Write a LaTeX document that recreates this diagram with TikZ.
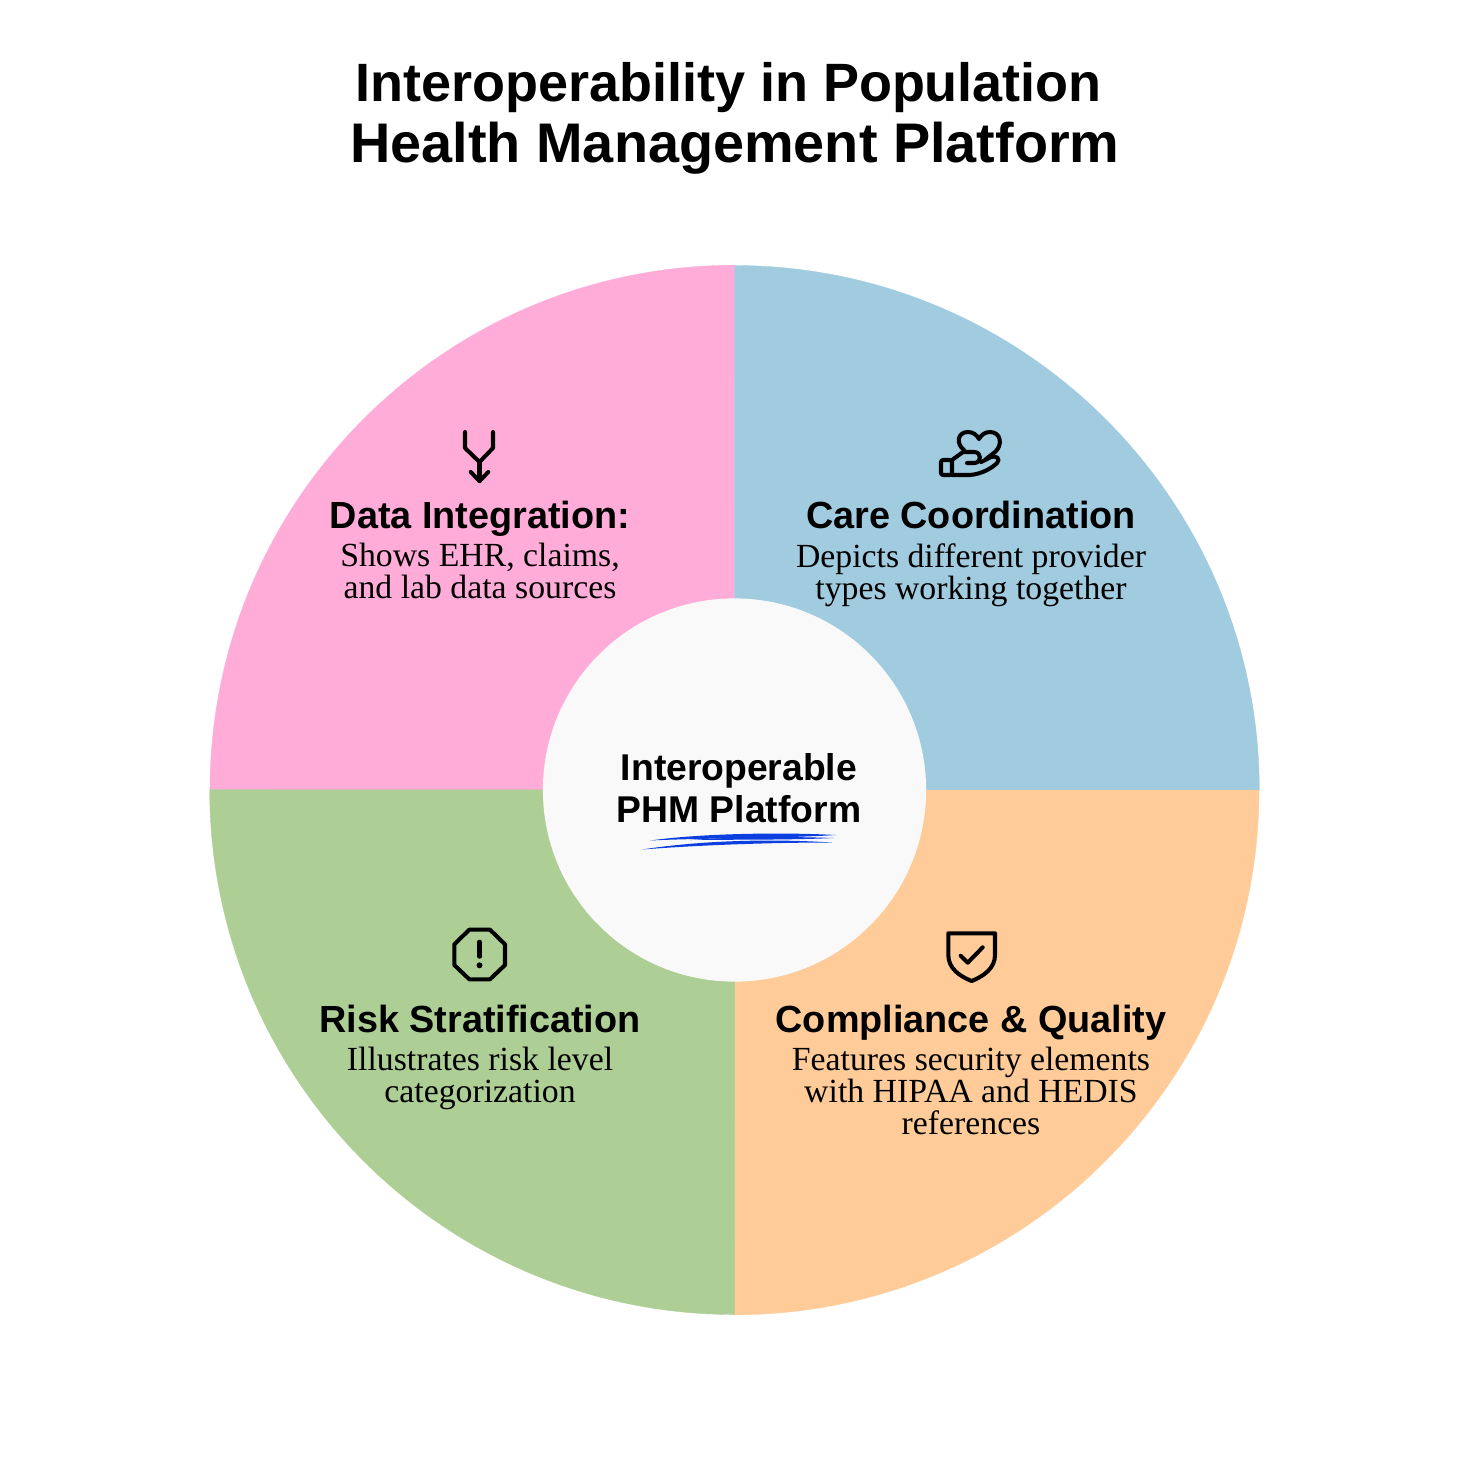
\documentclass[tikz,border=0pt]{standalone}
\usepackage{fontspec}
\setmainfont{Liberation Serif}
\newfontfamily\headfont{Liberation Sans}[BoldFont={Liberation Sans Bold}]
\usepackage{tikz}
\usetikzlibrary{positioning}
\definecolor{pinkarc}{HTML}{FFADD8}
\definecolor{bluearc}{HTML}{A1CBDF}
\definecolor{orangearc}{HTML}{FFCC99}
\definecolor{greenarc}{HTML}{ADCF96}
\definecolor{hubfill}{HTML}{F9F9F9}
\definecolor{scribble}{HTML}{0B3FE0}
\tikzset{
	titlenode/.style={align=center,inner sep=0pt,font=\headfont\bfseries\fontsize{15.87}{17.35}\selectfont},
	headnode/.style={inner sep=0pt,text height=7.4pt,text depth=2.2pt,font=\headfont\bfseries\fontsize{10.75}{12}\selectfont},
	bodynode/.style={align=center,inner sep=0pt,font=\fontsize{9.6}{9.1}\selectfont},
	hubnode/.style={circle,fill=hubfill,minimum size=3.83cm,inner sep=0pt},
	hubtext/.style={align=center,inner sep=0pt,font=\headfont\bfseries\fontsize{10.6}{12}\selectfont},
	quarter/.style={fill=#1,draw=#1,line width=0.1pt},
	iconline/.style={line width=1.15pt,line cap=round,line join=round,draw=black},
	scribbleline/.style={fill=scribble},
}
\begin{document}
\begin{tikzpicture}[x=0.01cm,y=-0.01cm]
	\useasboundingbox (0,0) rectangle (1470,1460);
	% quarters
	\path[quarter=pinkarc] (734.5,790) -- (210,790) arc[start angle=180,end angle=90,radius=5.245cm] -- cycle;
	\path[quarter=bluearc] (734.5,790) -- (734.5,265.5) arc[start angle=90,end angle=0,radius=5.245cm] -- cycle;
	\path[quarter=orangearc] (734.5,790) -- (1259,790) arc[start angle=0,end angle=-90,radius=5.245cm] -- cycle;
	\path[quarter=greenarc] (734.5,790) -- (734.5,1314.5) arc[start angle=-90,end angle=-180,radius=5.245cm] -- cycle;

	\node[titlenode] (title) at (735,118) {{\fontsize{15.35}{17.35}\selectfont Interoperability in Population\kern3.7pt\relax}\\Health Management Platform};
	\node[hubnode] (hub) at (734.5,790) {};
	\node[hubtext] (hubT) at (739,788) {Interoperable\\PHM Platform};

	% underline below the hub text
	\fill[scribbleline] (650,840.5) .. controls (700,833.5) and (780,832) .. (836,835) .. controls (780,838.5) and (700,838) .. cycle;
	\fill[scribbleline] (690,840) .. controls (740,836.5) and (790,836.5) .. (834,838) .. controls (790,840) and (740,839.5) .. cycle;
	\fill[scribbleline] (642,849.5) .. controls (700,840.5) and (770,838.5) .. (832,842.5) .. controls (770,842.5) and (700,845) .. cycle;

	% texts
	\node[headnode] (dataH) at (480,519) {Data Integration:};
	\node[bodynode,below=1.7pt of dataH] (dataB) {Shows EHR, claims,\\and lab data sources};
	\node[headnode] (careH) at (971,519) {Care Coordination};
	\node[bodynode,below=1.7pt of careH] (careB) {Depicts different provider\\types working together};
	\node[headnode] (riskH) at (480,1023) {Risk Stratification};
	\node[bodynode,below=1.7pt of riskH] (riskB) {Illustrates risk level\\categorization};
	\node[headnode] (compH) at (971,1023) {Compliance \& Quality};
	\node[bodynode,below=1.7pt of compH] (compB) {Features security elements\\with HIPAA and HEDIS\\references};

	% merge icon
	\draw[iconline] (465,432) -- (465,448) -- (479.5,462) -- (493,448) -- (493,432);
	\draw[iconline] (479.5,462) -- (479.5,481);
	\draw[iconline] (470.7,472) -- (479.5,481) -- (488.3,472);

	% hand and heart icon
	\draw[iconline,rounded corners=0.6pt] (941,460) rectangle (952,475);
	\draw[iconline] (952,460) -- (963,452) -- (974,452) .. controls (982,452) and (982,463) .. (974,463) -- (967,463);
	\draw[iconline] (952,475) -- (970,475) .. controls (982,474) and (992,468) .. (997,463) .. controls (1001,459) and (996,455) .. (991,457) -- (981,462);
	\draw[iconline] (964,450) .. controls (956,444) and (957,432) .. (968,432) .. controls (973,432) and (977,435) .. (979,439) .. controls (981,435) and (985,432) .. (990,432) .. controls (1001,432) and (1003,445) .. (995,452) -- (986,459);

	% warning icon
	\draw[iconline] (469.3,929.7) -- (490,929.7) -- (505,944.3) -- (505,965) -- (490,979.3) -- (469.3,979.3) -- (454.3,965) -- (454.3,944.3) -- cycle;
	\draw[iconline] (479.5,941.7) -- (479.5,956.7);
	\fill (479.5,965.3) circle[radius=0.03cm];

	% shield icon
	\draw[iconline] (948.3,933.3) -- (995,933.3) -- (995,955) .. controls (995,968) and (984,976) .. (971.7,981) .. controls (959,976) and (948.3,968) .. (948.3,955) -- cycle;
	\draw[iconline] (960.7,955.7) -- (967.7,962.7) -- (982.7,947.3);
\end{tikzpicture}
\end{document}
